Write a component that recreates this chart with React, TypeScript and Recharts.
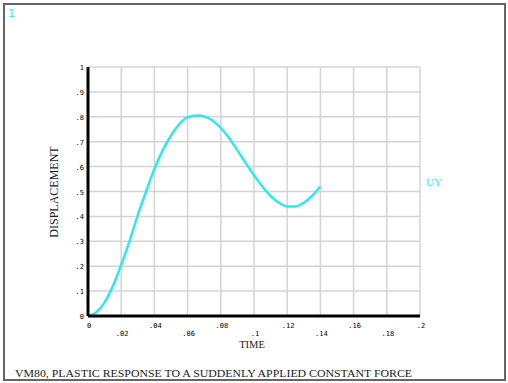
import { LineChart, Line, XAxis, YAxis, CartesianGrid } from "recharts";

const times = [0, 0.005, 0.01, 0.015, 0.02, 0.025, 0.03, 0.035, 0.04, 0.045, 0.05, 0.055, 0.06, 0.066, 0.07, 0.075, 0.08, 0.085, 0.09, 0.095, 0.1, 0.105, 0.11, 0.115, 0.12, 0.125, 0.13, 0.135, 0.14];
const uy = [0, 0.015, 0.055, 0.12, 0.205, 0.3, 0.405, 0.5, 0.59, 0.665, 0.725, 0.77, 0.798, 0.805, 0.801, 0.785, 0.755, 0.715, 0.665, 0.615, 0.565, 0.52, 0.482, 0.455, 0.44, 0.44, 0.455, 0.482, 0.52];
const xTicks = [0, 0.02, 0.04, 0.06, 0.08, 0.1, 0.12, 0.14, 0.16, 0.18, 0.2];
const yTicks = [0, 0.1, 0.2, 0.3, 0.4, 0.5, 0.6, 0.7, 0.8, 0.9, 1];

const CYAN = "#33e6ee";
const fmt = (v: number) => (v === 0 ? "0" : v === 1 ? "1" : String(Number(v.toFixed(2))).replace(/^0/, ""));

// staggered x labels, like the original plot
const XTick = (props: any) => {
  const { x, payload, index } = props;
  const dy = index % 2 === 0 ? 12 : 20;
  return (
    <text x={x + 1} y={316 + dy} textAnchor="middle" fontSize={7} fontFamily="DejaVu Sans Mono" fill="#000">
      {fmt(payload.value)}
    </text>
  );
};

const YTick = (props: any) => {
  const { y, payload } = props;
  return (
    <text x={84} y={y + 3} textAnchor="end" fontSize={7} fontFamily="DejaVu Sans Mono" fill="#000">
      {fmt(payload.value)}
    </text>
  );
};

export default function App() {
  const data = times.map((t, i) => ({ t, uy: uy[i] }));
  return (
    <div style={{ position: "absolute", left: 0, top: 0, width: 508, height: 383, background: "#fff" }}>
      <div style={{ position: "absolute", left: 3, top: 3, width: 499, height: 374, border: "2px solid #666" }} />
      <div style={{ position: "absolute", left: 0, top: 0 }}>
        <LineChart width={508} height={383} data={data} margin={{ top: 67, right: 88, bottom: 37, left: 58 }}>
          <CartesianGrid stroke="#d4d4d4" strokeWidth={1.5} />
          <XAxis
            dataKey="t"
            type="number"
            domain={[0, 0.2]}
            ticks={xTicks}
            height={30}
            tickLine={false}
            axisLine={{ stroke: "#000", strokeWidth: 3 }}
            tick={XTick}
            interval={0}
          />
          <YAxis
            type="number"
            domain={[0, 1]}
            ticks={yTicks}
            width={30}
            tickLine={false}
            axisLine={{ stroke: "#000", strokeWidth: 3 }}
            tick={YTick}
            interval={0}
          />
          <Line type="monotone" dataKey="uy" stroke={CYAN} strokeWidth={2.5} dot={false} isAnimationActive={false} />
        </LineChart>
      </div>
      <svg width={508} height={383} style={{ position: "absolute", left: 0, top: 0, pointerEvents: "none" }}>
        <text x={8} y={17} fontSize={11} fontFamily="DejaVu Sans Mono" fill={CYAN}>1</text>
        <text x={426} y={186} fontSize={11} fontFamily="Liberation Serif" fill={CYAN}>UY</text>
        <text x={252} y={348} textAnchor="middle" fontSize={10.5} fontFamily="Liberation Serif" fill="#222">TIME</text>
        <text
          transform="translate(58,192) rotate(-90)"
          textAnchor="middle"
          fontSize={12}
          fontFamily="Liberation Serif"
          fill="#222"
        >
          DISPLACEMENT
        </text>
        <text x={15} y={377} fontSize={11} fontFamily="Liberation Serif" fill="#222" textLength={397} lengthAdjust="spacingAndGlyphs">
          VM80, PLASTIC RESPONSE TO A SUDDENLY APPLIED CONSTANT FORCE
        </text>
      </svg>
    </div>
  );
}
